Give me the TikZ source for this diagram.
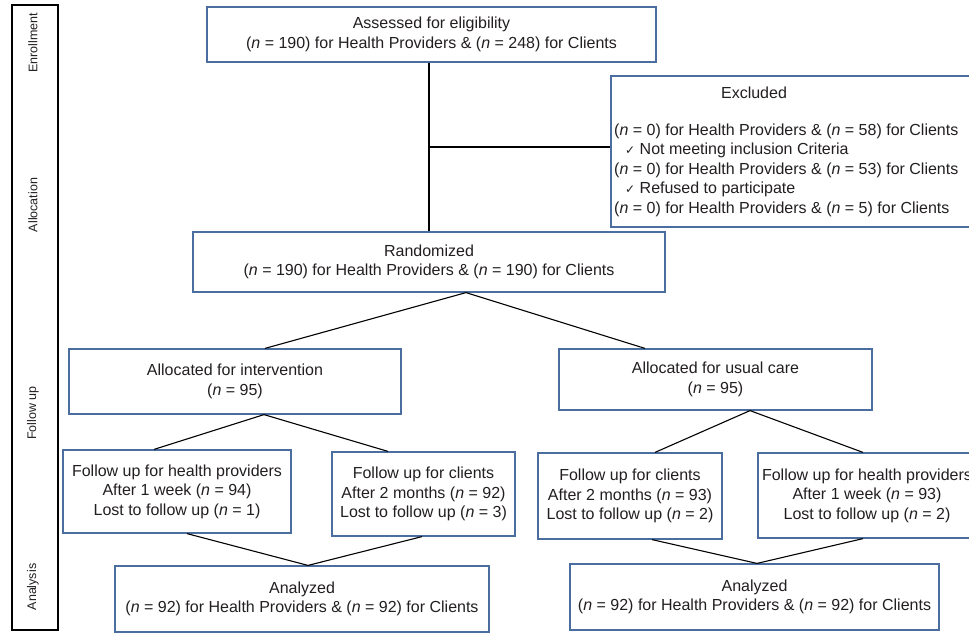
\documentclass[tikz,border=0pt]{standalone}
\usepackage{fontspec}
\setmainfont{Liberation Sans}
\newfontfamily\chkfont{DejaVu Sans}
\usetikzlibrary{calc}
\definecolor{boxblue}{RGB}{74,110,160}
\definecolor{txt}{RGB}{35,31,32}
\begin{document}
\begin{tikzpicture}[x=1pt,y=-1pt,
  box/.style={draw=boxblue, line width=1.2pt, fill=white, align=center, inner sep=0pt, text=txt, font=\fontsize{16}{19.5}\selectfont},
  plain/.style={inner sep=0pt, text=txt, font=\fontsize{16}{19.5}\selectfont},
  conn/.style={draw=black, line width=1.1pt},
  side/.style={rotate=90, inner sep=0pt, text=txt, font=\fontsize{12.5}{15}\selectfont}]
\useasboundingbox (0,0) rectangle (969,635);
\clip (0,0) rectangle (969,635);

% sidebar
\node[draw=black, line width=1.4pt, minimum width=46pt, minimum height=625pt, inner sep=0pt] (sidebar) at (35,317.5) {};
\node[side] (lenr) at (33,43) {Enrollment};
\node[side] (lalloc) at (33,205) {Allocation};
\node[side] (lfollow) at (33,413) {Follow up};
\node[side] (lanal) at (33,587) {Analysis};

% boxes
\node[box, minimum width=449pt, minimum height=55pt] (assess) at (431.5,34.5)
  {Assessed for eligibility\\(\textit{n} = 190) for Health Providers \& (\textit{n} = 248) for Clients};
\node[box, minimum width=361pt, minimum height=151pt] (excl) at (791.5,151.5) {};
\node[plain, anchor=base] (exltitle) at (754,98) {Excluded};
\node[plain, anchor=base west] (exl1) at (614,135) {(\textit{n} = 0) for Health Providers \& (\textit{n} = 58) for Clients};
\node[plain, anchor=base west] (exl2) at (625,154.5) {{\chkfont\fontsize{12}{14}\selectfont ✓} Not meeting inclusion Criteria};
\node[plain, anchor=base west] (exl3) at (614,174) {(\textit{n} = 0) for Health Providers \& (\textit{n} = 53) for Clients};
\node[plain, anchor=base west] (exl4) at (625,193.5) {{\chkfont\fontsize{12}{14}\selectfont ✓} Refused to participate};
\node[plain, anchor=base west] (exl5) at (614,213) {(\textit{n} = 0) for Health Providers \& (\textit{n} = 5) for Clients};

\node[box, minimum width=472pt, minimum height=60pt] (rand) at (429,262)
  {Randomized\\(\textit{n} = 190) for Health Providers \& (\textit{n} = 190) for Clients};
\node[box, minimum width=332pt, minimum height=65pt] (interv) at (235,381.5)
  {Allocated for intervention\\(\textit{n} = 95)};
\node[box, minimum width=313pt, minimum height=61pt] (usual) at (715.5,379.5)
  {Allocated for usual care\\(\textit{n} = 95)};
\node[box, minimum width=228pt, minimum height=83pt] (fuhpL) at (177,491.5)
  {Follow up for health providers\\After 1 week (\textit{n} = 94)\\Lost to follow up (\textit{n} = 1)};
\node[box, minimum width=183pt, minimum height=84pt] (fuclL) at (423.5,494)
  {Follow up for clients\\After 2 months (\textit{n} = 92)\\Lost to follow up (\textit{n} = 3)};
\node[box, minimum width=184pt, minimum height=86pt] (fuclR) at (630,496)
  {Follow up for clients\\After 2 months (\textit{n} = 93)\\Lost to follow up (\textit{n} = 2)};
\node[box, minimum width=218pt, minimum height=85pt] (fuhpR) at (867,495.5)
  {Follow up for health providers\\After 1 week (\textit{n} = 93)\\Lost to follow up (\textit{n} = 2)};
\node[box, minimum width=374pt, minimum height=66pt] (anaL) at (302,599)
  {Analyzed\\(\textit{n} = 92) for Health Providers \& (\textit{n} = 92) for Clients};
\node[box, minimum width=369pt, minimum height=66pt] (anaR) at (754.5,597)
  {Analyzed\\(\textit{n} = 92) for Health Providers \& (\textit{n} = 92) for Clients};

% connectors
\coordinate (trunk) at (429,147);
\draw[conn] (trunk |- assess.south) -- (trunk |- rand.north);
\draw[conn] (trunk) -- (trunk -| excl.west);

\draw[conn] ($(interv.north)+(30,0)$) -- ($(rand.south)+(37,0)$) -- ($(usual.north)+(-70.5,0)$);
\draw[conn] ($(fuhpL.north)+(-23,0)$) -- ($(interv.south)+(29,0)$) -- ($(fuclL.north)+(-35.5,0)$);
\draw[conn] ($(fuclR.north)+(25,0)$) -- ($(usual.south)+(34.5,0)$) -- ($(fuhpR.north)+(-4,0)$);
\draw[conn] ($(fuhpL.south)+(10,0)$) -- ($(anaL.north)+(6,0)$) -- ($(fuclL.south)+(-1.5,0)$);
\draw[conn] ($(fuclR.south)+(22,0)$) -- ($(anaR.north)+(2.5,0)$) -- ($(fuhpR.south)+(-4,0)$);
\end{tikzpicture}
\end{document}
